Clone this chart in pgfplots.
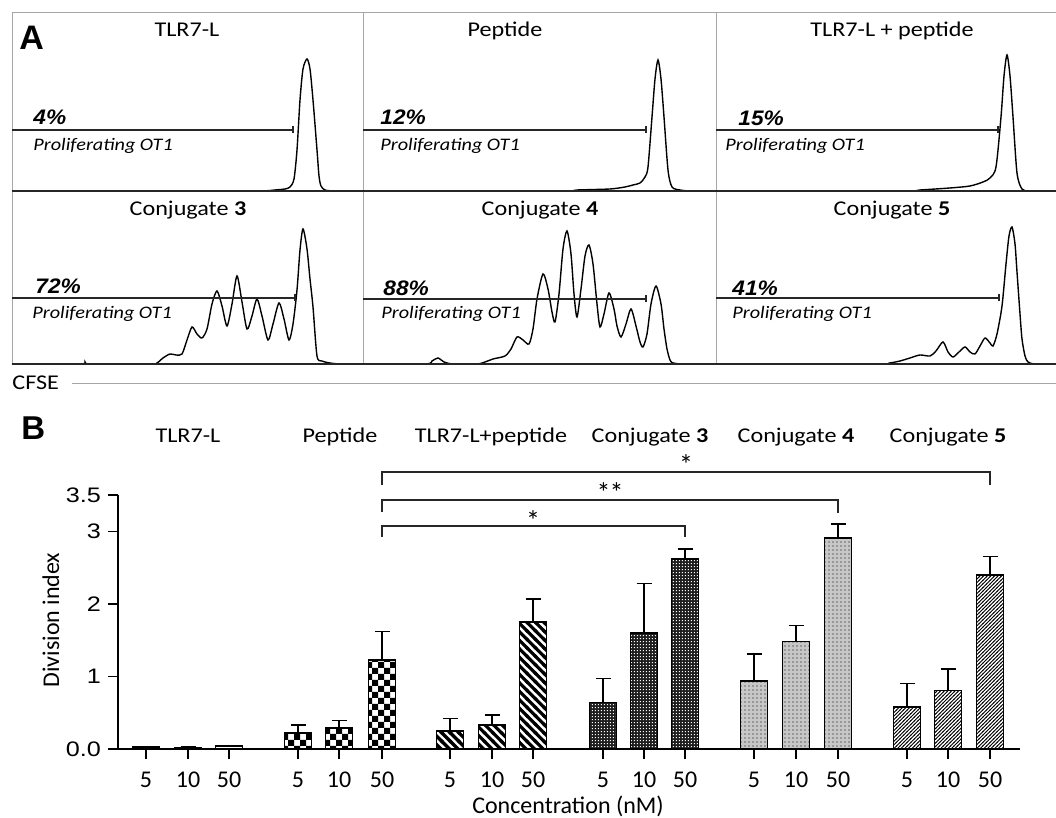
\documentclass[border=0pt]{standalone}
\usepackage{fontspec}
\setmainfont{Carlito}
\newfontfamily\titlefont{Carlito}[FakeStretch=1.15]
\newfontfamily\arialw{Liberation Sans}[FakeStretch=1.2]
\newfontfamily\arialp{Liberation Sans}[FakeStretch=1.08]
\newfontfamily\arialf{Liberation Sans}
\usepackage{pgfplots}
\pgfplotsset{compat=1.18}
\usetikzlibrary{patterns}
\pgfdeclarepatternformonly{checkB}{\pgfqpoint{-0.05pt}{-0.05pt}}{\pgfqpoint{6.05pt}{6.05pt}}{\pgfqpoint{6pt}{6pt}}{%
 \pgfpathrectangle{\pgfpointorigin}{\pgfqpoint{3.05pt}{3.05pt}}%
 \pgfpathrectangle{\pgfqpoint{3pt}{3pt}}{\pgfqpoint{3.05pt}{3.05pt}}%
 \pgfusepath{fill}}
\pgfdeclarepatternformonly{thickNW}{\pgfqpoint{-1.5pt}{-1.5pt}}{\pgfqpoint{5.75pt}{5.75pt}}{\pgfqpoint{4.25pt}{4.25pt}}{%
 \pgfsetlinewidth{1.6pt}\pgfpathmoveto{\pgfqpoint{-0.5pt}{4.75pt}}\pgfpathlineto{\pgfqpoint{4.75pt}{-0.5pt}}\pgfusepath{stroke}}
\pgfdeclarepatternformonly{thinNE}{\pgfqpoint{-0.5pt}{-0.5pt}}{\pgfqpoint{2.3pt}{2.3pt}}{\pgfqpoint{1.8pt}{1.8pt}}{%
 \pgfsetlinewidth{0.45pt}\pgfpathmoveto{\pgfqpoint{-0.2pt}{-0.2pt}}\pgfpathlineto{\pgfqpoint{2pt}{2pt}}\pgfusepath{stroke}}
\pgfdeclarepatternformonly{mydots}{\pgfpointorigin}{\pgfqpoint{2.2pt}{2.2pt}}{\pgfqpoint{2.2pt}{2.2pt}}{%
 \pgfpathcircle{\pgfqpoint{1.1pt}{1.1pt}}{0.35pt}\pgfusepath{fill}}
\pgfdeclarepatternformonly{whitesq}{\pgfpointorigin}{\pgfqpoint{1.4pt}{1.4pt}}{\pgfqpoint{1.4pt}{1.4pt}}{%
 \pgfpathrectangle{\pgfqpoint{0.45pt}{0.45pt}}{\pgfqpoint{0.5pt}{0.5pt}}\pgfusepath{fill}}

\pgfplotsset{hist/.style={scale only axis, anchor=south west, hide axis, clip=false, ymin=0},
  histline/.style={black, line width=0.7pt, smooth, tension=0.45},
  mybar/.style={ybar, bar width=27, bar shift=0pt, draw=black, line width=0.75pt,
     error bars/y dir=plus, error bars/y explicit,
     error bars/error bar style={line width=0.75pt, black},
     error bars/error mark options={rotate=90, mark size=3.75pt, line width=0.75pt, black}}}

\begin{document}
\begin{tikzpicture}[x=0.5pt,y=0.5pt]
\useasboundingbox (0,0) rectangle (1056,818);

% ---------- histograms (axis positions: y = 818 - image y) ----------
\begin{axis}[hist, at={(12,627)}, width=175.5pt, height=89pt, xmin=12, xmax=363, ymax=178]
\addplot[histline] coordinates {(12,0) (200,0) (260,0) (275,1) (285,2) (290,4) (294,12) (297,41) (300,91) (303,122) (307,132) (310,122) (313,91) (317,41) (319,15) (321,5) (325,1) (335,0) (363,0)};
\end{axis}
\begin{axis}[hist, at={(363,627)}, width=176.5pt, height=89pt, xmin=363, xmax=716, ymax=178]
\addplot[histline] coordinates {(363,0) (560,0) (577,1) (610,2) (625,4) (633,6) (640,8) (645,14) (648,24) (652,74) (655,112) (658,131) (661,112) (664,74) (668,21) (672,4) (680,1) (690,0) (716,0)};
\end{axis}
\begin{axis}[hist, at={(716,627)}, width=170pt, height=89pt, xmin=716, xmax=1056, ymax=178]
\addplot[histline] coordinates {(716,0) (900,0) (920,1) (950,3) (970,5) (983,9) (990,13) (996,24) (1001,74) (1004,115) (1007,136) (1010,115) (1013,74) (1017,18) (1022,2) (1030,0) (1056,0)};
\end{axis}
\begin{axis}[hist, at={(12,454)}, width=175.5pt, height=86.5pt, xmin=12, xmax=363, ymax=173]
\addplot[histline] coordinates {(12,0) (80,0) (85,2) (90,0) (150,0) (157,1) (163,6) (170,10) (176,9) (182,10) (187,24) (192,37) (197,30) (202,26) (207,35) (212,60) (217,73) (222,58) (227,38) (232,60) (237,88) (242,62) (247,35) (252,48) (257,65) (262,48) (268,24) (273,40) (279,61) (284,45) (289,24) (293,40) (297,74) (300,114) (303,135) (307,115) (310,85) (313,57) (317,8) (322,3) (330,1) (340,0) (363,0)};
\end{axis}
\begin{axis}[hist, at={(363,454)}, width=176.5pt, height=86.5pt, xmin=363, xmax=716, ymax=173]
\addplot[histline] coordinates {(363,0) (425,0) (432,3) (438,6) (444,2) (453,0) (477,0) (485,2) (493,5) (505,8) (511,15) (517,27) (523,24) (529,20) (533,35) (537,65) (543,90) (548,75) (552,52) (555,42) (559,70) (563,115) (567,133) (571,110) (574,70) (577,47) (581,75) (585,108) (589,119) (593,100) (597,60) (600,37) (604,50) (609,71) (614,55) (617,38) (621,27) (626,40) (631,55) (636,38) (640,22) (643,17) (647,30) (651,60) (656,78) (661,60) (664,35) (667,15) (670,4) (673,1) (683,0) (716,0)};
\end{axis}
\begin{axis}[hist, at={(716,454)}, width=170pt, height=86.5pt, xmin=716, xmax=1056, ymax=173]
\addplot[histline] coordinates {(716,0) (880,0) (890,1) (900,3) (910,6) (920,9) (930,8) (936,13) (943,22) (948,12) (953,7) (959,12) (965,17) (970,12) (975,10) (980,18) (985,26) (990,21) (993,18) (997,30) (1002,58) (1006,100) (1009,128) (1012,137) (1015,120) (1017,92) (1020,50) (1022,25) (1025,8) (1028,2) (1035,0) (1056,0)};
\end{axis}

% ---------- Panel B axis ----------
\begin{axis}[at={(118,95)}, anchor=south west, scale only axis,
  width=451pt, height=127pt, xmin=118, xmax=1020, ymin=0, ymax=3.5,
  axis x line=bottom, axis y line=left,
  axis line style={-, line width=0.75pt, black},
  tick align=outside, major tick length=5pt,
  tick style={black, line width=0.75pt},
  xtick={146,188,229,298,339,382,450,492,533,603,644,685,754,796,838,907,948,990},
  xticklabels={5,10,50,5,10,50,5,10,50,5,10,50,5,10,50,5,10,50},
  ytick={0,1,2,3,3.5}, yticklabels={0.0,1,2,3,3.5},
  x tick label style={font=\fontsize{12}{14}\selectfont, yshift=-3pt},
  y tick label style={font=\arialw\fontsize{10.5}{12}\selectfont},
  clip=false]
\addplot[mybar, fill=white] coordinates {(146,0.03) +- (0,0.005) (188,0.02) +- (0,0.005) (229,0.04) +- (0,0.005)};
\addplot[mybar, pattern=checkB] coordinates {(298,0.22) +- (0,0.11) (339,0.29) +- (0,0.10) (382,1.23) +- (0,0.39)};
\addplot[mybar, pattern=thickNW] coordinates {(450,0.25) +- (0,0.17) (492,0.33) +- (0,0.14) (533,1.75) +- (0,0.32)};
\addplot[mybar, fill=black!88, postaction={pattern=whitesq, pattern color=white}] coordinates {(603,0.64) +- (0,0.33) (644,1.60) +- (0,0.68) (685,2.62) +- (0,0.14)};
\addplot[mybar, fill=black!22, postaction={pattern=mydots}] coordinates {(754,0.94) +- (0,0.37) (796,1.48) +- (0,0.22) (838,2.91) +- (0,0.19)};
\addplot[mybar, pattern=thinNE] coordinates {(907,0.58) +- (0,0.32) (948,0.81) +- (0,0.29) (990,2.40) +- (0,0.25)};
\end{axis}

\begin{scope}[yshift=409pt, y=-0.5pt]
% ---------- Panel A frames ----------
\draw[gray!70, line width=0.5pt] (12,13) -- (1056,13);
\draw[gray!70, line width=0.5pt] (12,13) -- (12,364) (363,13) -- (363,364) (716,13) -- (716,364);
\draw[black!85, line width=0.7pt] (12,191) -- (1056,191) (12,364) -- (1056,364);
\draw[gray!70, line width=0.5pt] (72,384) -- (1056,384);
\node[anchor=base west, inner sep=0, font=\titlefont\fontsize{10.5}{12}\selectfont] at (12,390) {CFSE};

% gates
\draw[black!85, line width=0.55pt]
  (12,130) -- (293,130) (293,126.5) -- (293,133.5)
  (363,130) -- (646,130) (646,126.5) -- (646,133.5)
  (716,130) -- (998,130) (998,126.5) -- (998,133.5)
  (12,298) -- (295,298) (295,294.5) -- (295,301.5)
  (363,299) -- (646,299) (646,295.5) -- (646,302.5)
  (716,298) -- (999,298) (999,294.5) -- (999,301.5);

% texts panel A
\node[anchor=base west, inner sep=0, font=\arialf\bfseries\fontsize{17}{19}\selectfont] at (19,50) {A};
\begin{scope}[every node/.style={anchor=base, inner sep=0, font=\titlefont\fontsize{10.5}{12}\selectfont}]
\node at (187,37) {TLR7-L};
\node at (505,37) {Peptide};
\node at (892,37) {TLR7-L + peptide};
\node at (188,216) {Conjugate \textbf{3}};
\node at (540,216) {Conjugate \textbf{4}};
\node at (892,216) {Conjugate \textbf{5}};
\end{scope}
\begin{scope}[every node/.style={anchor=base west, inner sep=0, font=\arialp\bfseries\itshape\fontsize{10.5}{12}\selectfont}]
\node at (33,125) {4\%};
\node at (380,125) {12\%};
\node at (738,126) {15\%};
\node at (35,294) {72\%};
\node at (383,296) {88\%};
\node at (732,296) {41\%};
\end{scope}
\begin{scope}[every node/.style={anchor=base west, inner sep=0, font=\titlefont\itshape\fontsize{8.8}{10}\selectfont}]
\node at (33,151) {Proliferating OT1};
\node at (380,151) {Proliferating OT1};
\node at (725,151) {Proliferating OT1};
\node at (32,319) {Proliferating OT1};
\node at (381,319) {Proliferating OT1};
\node at (732,319) {Proliferating OT1};
\end{scope}

% ---------- Panel B texts ----------
\node[anchor=base west, inner sep=0, font=\arialf\bfseries\fontsize{16.5}{18}\selectfont] at (21,440) {B};
\begin{scope}[every node/.style={anchor=base, inner sep=0, font=\titlefont\fontsize{10.5}{12}\selectfont}]
\node at (188,443) {TLR7-L};
\node at (340,443) {Peptide};
\node at (491,443) {TLR7-L+peptide};
\node at (650,443) {Conjugate \textbf{3}};
\node at (796,443) {Conjugate \textbf{4}};
\node at (948,443) {Conjugate \textbf{5}};
\end{scope}

% significance brackets
\draw[black!85, line width=0.6pt]
  (382,537) -- (382,526) -- (685,526) -- (685,537)
  (382,512) -- (382,500) -- (838,500) -- (838,513)
  (382,485) -- (382,472) -- (990,472) -- (990,485);
\begin{scope}[every node/.style={inner sep=0, font=\fontsize{14}{16}\selectfont}]
\node at (533,521) {*};
\node at (610,493) {*\kern-0.5pt*};
\node at (686,465) {*};
\end{scope}

\node[rotate=90, anchor=base, inner sep=0, font=\fontsize{12}{14}\selectfont] at (59,620) {Division index};
\node[anchor=base, inner sep=0, font=\fontsize{12}{14}\selectfont] at (568,814) {Concentration (nM)};
\end{scope}
\end{tikzpicture}
\end{document}
